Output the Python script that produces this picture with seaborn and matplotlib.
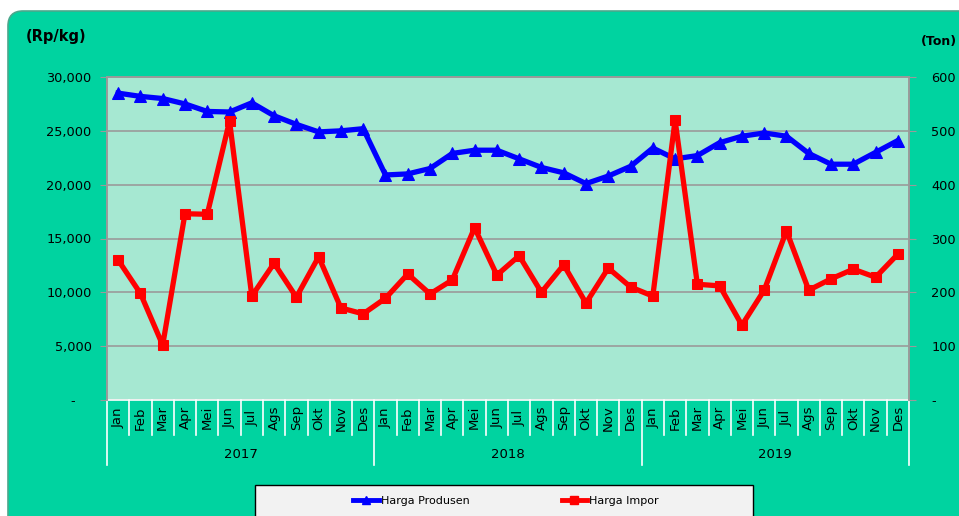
import numpy as np
import pandas as pd
import matplotlib
matplotlib.use('Agg')
import matplotlib.pyplot as plt
import seaborn as sns
from matplotlib.patches import FancyBboxPatch, Rectangle
from matplotlib.lines import Line2D
import matplotlib.transforms as mtransforms

# data
bulan = ['Jan', 'Feb', 'Mar', 'Apr', 'Mei', 'Jun', 'Jul', 'Ags', 'Sep', 'Okt', 'Nov', 'Des']
tahun = ['2017', '2018', '2019']

harga_produsen = [28500, 28200, 28000, 27500, 26800, 26750, 27600, 26400, 25600, 24900, 25000, 25200,
                  20900, 21000, 21500, 22900, 23200, 23200, 22400, 21600, 21100, 20100, 20800, 21700,
                  23400, 22400, 22700, 23900, 24500, 24800, 24500, 22900, 21900, 21900, 23000, 24100]

harga_impor = [260, 198, 102, 346, 345, 518, 193, 254, 191, 266, 171, 160,
               189, 234, 197, 223, 320, 232, 268, 200, 251, 180, 245, 210,
               193, 520, 215, 212, 139, 204, 314, 204, 225, 243, 228, 271]

df = pd.DataFrame({'idx': np.arange(len(harga_produsen)),
                   'produsen': harga_produsen,
                   'impor': harga_impor})

#-----------------------------------------------------------------
# figure

hijau = '#00D3A0'
hijau_muda = '#A6E8D2'

fig = plt.figure(figsize=(9.59, 5.16), dpi=100)
fig.patch.set_facecolor('white')

# rounded green panel
panel = FancyBboxPatch((0.08, -0.5), 10.0, 5.16 - 0.11 + 0.5,
                       boxstyle='round,pad=0,rounding_size=0.15',
                       transform=fig.dpi_scale_trans, facecolor=hijau,
                       edgecolor='#4AA88C', linewidth=1.2, zorder=-10)
fig.patches.append(panel)

ax = fig.add_axes([107 / 959, (516 - 400) / 516, 802 / 959, 323 / 516])
ax.set_facecolor(hijau_muda)
ax2 = ax.twinx()

sns.lineplot(data=df, x='idx', y='produsen', ax=ax, color='#0000FF', linewidth=3.8,
             marker='^', markersize=8, markeredgecolor='#0000FF')
sns.lineplot(data=df, x='idx', y='impor', ax=ax2, color='#FF0000', linewidth=3.8,
             marker='s', markersize=7, markeredgecolor='#FF0000')

ax.set_xlim(-0.5, len(harga_produsen) - 0.5)
ax.set_ylim(0, 30000)
ax2.set_ylim(0, 600)

ax.set_yticks(np.arange(0, 30001, 5000))
ax.set_yticklabels(['-    '] + ['{:,}'.format(v) for v in range(5000, 30001, 5000)])
ax2.set_yticks(np.arange(0, 601, 100))
ax2.set_yticklabels(['-'] + [str(v) for v in range(100, 601, 100)])

ax.grid(axis='y', color='#9A9A9A', linewidth=1.2)
ax.set_axisbelow(True)
ax.set_xticks([])
ax.set_xlabel('')
ax.set_ylabel('')
ax2.set_ylabel('')
ax2.set_xlabel('')

for a in (ax, ax2):
    for s in a.spines.values():
        s.set_color('#9A9A9A')
        s.set_linewidth(1.2)
    a.spines['bottom'].set_visible(False)
    a.tick_params(axis='y', colors='#9A9A9A', labelcolor='black', labelsize=9.3, length=5)
ax.tick_params(axis='y', pad=6)
ax2.tick_params(axis='y', pad=11)

# month / year table under the plot
trans = mtransforms.blended_transform_factory(ax.transData, ax.transAxes)
y_bulan = -35 / 323
y_tahun = -65 / 323
ax.plot([-0.5, 35.5], [0, 0], transform=trans, color='white', lw=1.2, clip_on=False)
for i in range(len(harga_produsen)):
    ax.text(i, -0.055, bulan[i % 12], transform=trans, rotation=90,
            ha='center', va='center', fontsize=9.5)
for i in range(len(harga_produsen) + 1):
    y_end = y_tahun if i % 12 == 0 else y_bulan
    ax.plot([i - 0.5, i - 0.5], [0, y_end], transform=trans, color='white',
            lw=1.2, clip_on=False)
for k, t in enumerate(tahun):
    ax.text(12 * k + 5.5, -55 / 323, t, transform=trans, ha='center', va='center', fontsize=9.5)

# axis titles
fig.text(26 / 959, 1 - 36 / 516, '(Rp/kg)', fontsize=10.5, fontweight='bold', va='center')
fig.text(921 / 959, 1 - 42 / 516, '(Ton)', fontsize=9, fontweight='bold', va='center')

# legend
kotak = Rectangle((2.55, -0.2), 4.98, 5.16 - 4.85 + 0.2, transform=fig.dpi_scale_trans,
                  facecolor='#F2F2F2', edgecolor='black', linewidth=1, zorder=1)
fig.patches.append(kotak)
handles = [Line2D([], [], color='#0000FF', lw=3.5, marker='^', markersize=6),
           Line2D([], [], color='#FF0000', lw=3.5, marker='s', markersize=6)]
fig.legend(handles, ['Harga Produsen', 'Harga Impor'], loc='center',
           bbox_to_anchor=(506 / 959, 1 - 501 / 516), ncol=2, frameon=False,
           fontsize=8, handlelength=2.3, handletextpad=0.15, columnspacing=8.3)

plt.savefig('out.png', dpi=100, facecolor=fig.get_facecolor())
